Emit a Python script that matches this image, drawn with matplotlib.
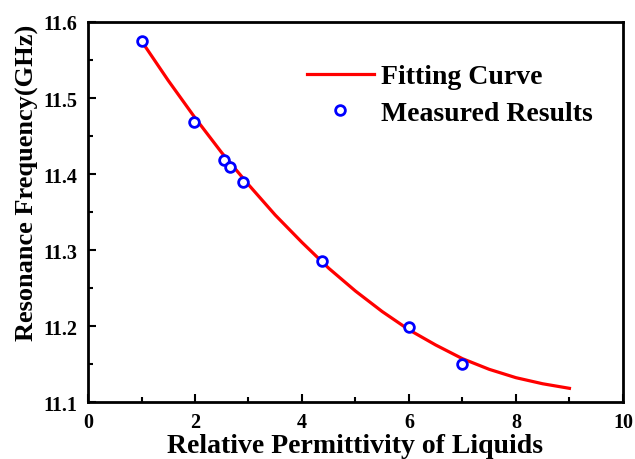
import matplotlib.pyplot as plt
from matplotlib.ticker import MultipleLocator

# ---------- data ----------
eps_meas = [1.0, 1.98, 2.54, 2.65, 2.9, 4.38, 6.0, 7.0]
f_meas = [11.575, 11.469, 11.419, 11.409, 11.390, 11.286, 11.199, 11.150]

eps_fit = [1.0, 1.5, 2.0, 2.5, 3.0, 3.5, 4.0, 4.5, 5.0, 5.5, 6.0, 6.5, 7.0, 7.5, 8.0, 8.5, 9.0]
f_fit = [11.575, 11.523, 11.474, 11.428, 11.386, 11.346, 11.310, 11.276, 11.246,
         11.219, 11.195, 11.175, 11.157, 11.143, 11.132, 11.124, 11.118]

# ---------- style ----------
plt.rcParams['font.family'] = 'Liberation Serif'
plt.rcParams['font.weight'] = 'bold'

fig = plt.figure(figsize=(6.35, 4.6), dpi=100)
ax = fig.add_axes([0.1386, 0.1239, 0.8424, 0.8261])

ax.plot(eps_fit, f_fit, color='red', lw=2.3, label='Fitting Curve')
ax.plot(eps_meas, f_meas, 'o', mfc='white', mec='blue', mew=2, ms=7,
        label='Measured Results', zorder=3)

ax.set_xlim(0, 10)
ax.set_ylim(11.1, 11.6)
ax.xaxis.set_major_locator(MultipleLocator(2))
ax.xaxis.set_minor_locator(MultipleLocator(1))
ax.yaxis.set_major_locator(MultipleLocator(0.1))
ax.yaxis.set_minor_locator(MultipleLocator(0.05))
ax.tick_params(which='both', direction='in', width=1.5, labelsize=14.5)
ax.tick_params(which='major', length=6)
ax.tick_params(which='minor', length=3.5)
ax.tick_params(axis='y', pad=7.5)
ax.tick_params(axis='x', pad=7)
for s in ax.spines.values():
    s.set_linewidth(2)

ax.set_xlabel('Relative Permittivity of Liquids', fontsize=20, fontweight='bold', labelpad=1)
ax.set_ylabel('Resonance Frequency(GHz)', fontsize=19, fontweight='bold')
ax.yaxis.set_label_coords(-0.092, 0.58)

leg = ax.legend(loc='upper left', bbox_to_anchor=(307 / 635, 1 - 65 / 460),
                bbox_transform=fig.transFigure, frameon=False, borderpad=0,
                borderaxespad=0, fontsize=20, handlelength=2.4,
                handletextpad=0.25, labelspacing=0.4)

fig.savefig('out.png', dpi=100)
